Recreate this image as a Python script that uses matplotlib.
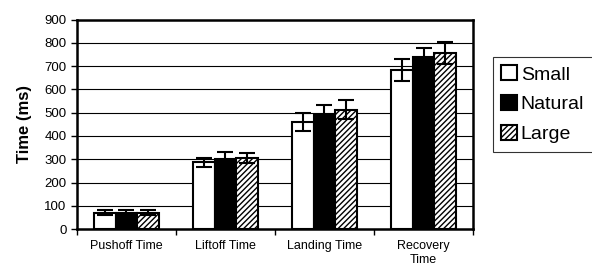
import numpy as np
import matplotlib
matplotlib.use('Agg')
import matplotlib.pyplot as plt

plt.rcParams['font.family'] = ['Liberation Sans', 'DejaVu Sans']
plt.rcParams['hatch.linewidth'] = 1.0

categories = ['Pushoff Time', 'Liftoff Time', 'Landing Time', 'Recovery\nTime']
series = ['Small', 'Natural', 'Large']
small = [70, 287, 460, 684]
natural = [70, 302, 490, 737]
large = [70, 305, 513, 755]
small_err = [10, 20, 37, 46]
natural_err = [10, 28, 43, 39]
large_err = [10, 22, 40, 47]

fig = plt.figure(figsize=(5.92, 2.75), dpi=100)
ax = fig.add_axes([0.130, 0.167, 0.669, 0.762])

x = np.arange(len(categories))
w = 0.22
styles = [dict(color='white', hatch=None), dict(color='black', hatch=None),
          dict(color='white', hatch='//////')]
for i, (vals, errs) in enumerate([(small, small_err), (natural, natural_err), (large, large_err)]):
    ax.bar(x + (i - 1) * w, vals, w, color=styles[i]['color'], edgecolor='black',
           linewidth=1.5, hatch=styles[i]['hatch'], label=series[i], zorder=2)
    ax.errorbar(x + (i - 1) * w, vals, yerr=errs, fmt='none', ecolor='black',
                elinewidth=1.5, capsize=6, capthick=1.5, zorder=3)

ax.set_xlim(-0.5, 3.5)
ax.set_ylim(0, 900)
ax.set_yticks(range(0, 1000, 100))
ax.yaxis.grid(True, color='black', linewidth=0.8, zorder=0)
ax.set_axisbelow(True)
ax.set_xticks(np.arange(-0.5, 4, 1))
ax.set_xticklabels([])
ax.set_xticks(x, minor=True)
ax.set_xticklabels(categories, minor=True, fontsize=9)
ax.tick_params(axis='x', which='minor', length=0, pad=8)
ax.tick_params(axis='x', which='major', length=4, width=1, direction='out')
ax.tick_params(axis='y', length=4, width=1, labelsize=9.5)
for s in ax.spines.values():
    s.set_linewidth(1.8)
ax.set_ylabel('Time (ms)', fontsize=12, fontweight='bold', labelpad=9)

leg = ax.legend(loc='upper left', bbox_to_anchor=(0.832, 0.794), bbox_transform=fig.transFigure,
                fontsize=14, frameon=True, fancybox=False, handlelength=0.8, handleheight=0.8,
                handletextpad=0.2, borderpad=0.45, labelspacing=0.6, borderaxespad=0)
leg.get_frame().set_edgecolor('black')
leg.get_frame().set_linewidth(0.8)

fig.savefig('out.png', dpi=100)
